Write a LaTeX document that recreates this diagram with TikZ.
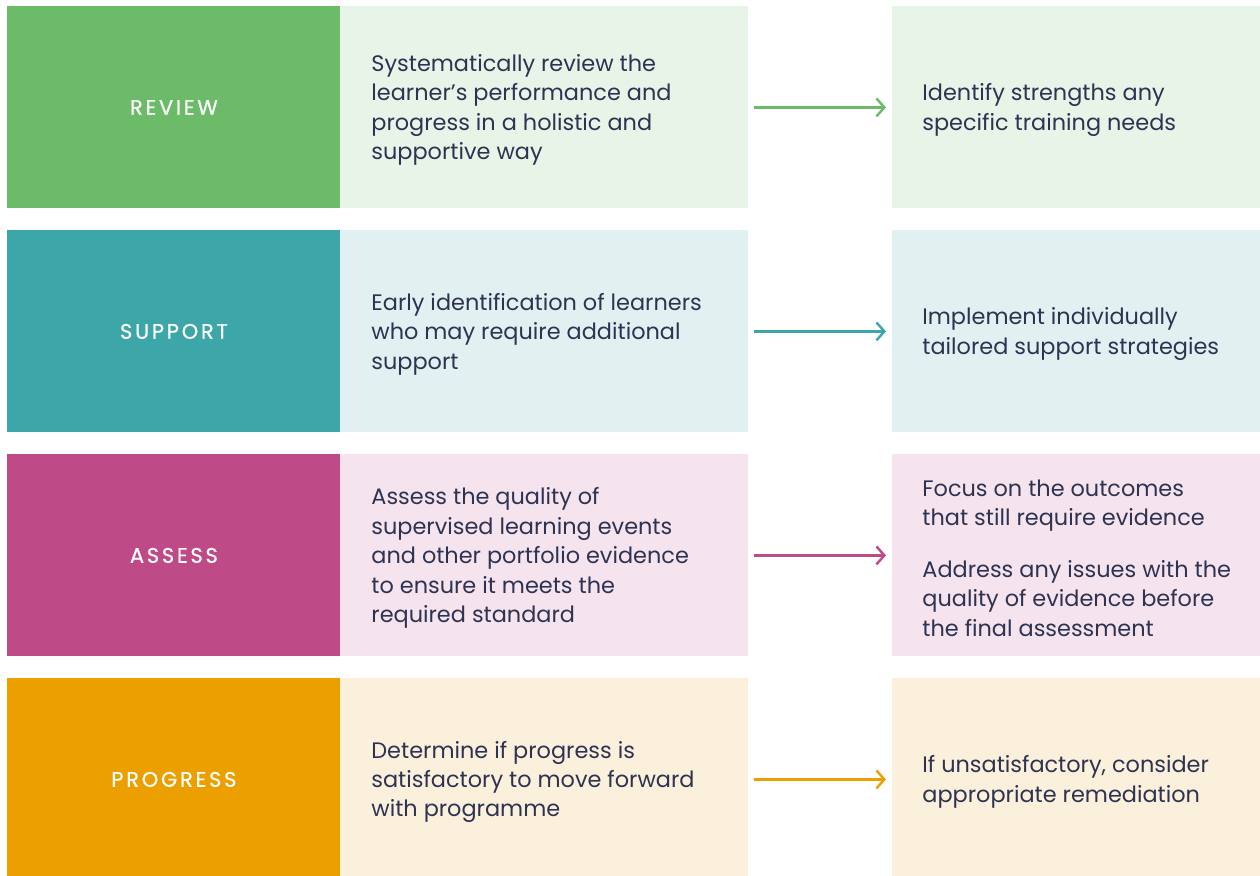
\documentclass[tikz,border=0pt]{standalone}
\usepackage{fontspec}
\setmainfont{Poppins}
\newfontfamily\tagfont[LetterSpace=13,FakeBold=0.6]{Poppins}
\usetikzlibrary{positioning,arrows.meta}

\definecolor{ink}{HTML}{2E3352}
\definecolor{reviewC}{HTML}{6CBB69}
\definecolor{reviewL}{HTML}{E8F4E8}
\definecolor{supportC}{HTML}{3DA6A9}
\definecolor{supportL}{HTML}{E1F1F1}
\definecolor{assessC}{HTML}{BE4A88}
\definecolor{assessL}{HTML}{F5E4ED}
\definecolor{progressC}{HTML}{ECA000}
\definecolor{progressL}{HTML}{FBF0DB}

\tikzset{
  box/.style={anchor=north west, inner sep=0pt, minimum height=101pt},
  tagbox/.style={box, minimum width=166.5pt, text=white, font=\tagfont\fontsize{10.5}{12}\selectfont},
  midbox/.style={box, minimum width=204pt},
  outbox/.style={box, minimum width=184pt},
  body/.style={anchor=west, align=left, inner sep=0pt, text=ink,
    font=\fontsize{11.2}{14.7}\selectfont},
  link/.style={-{Straight Barb[length=4pt,width=9pt]}, line width=1.2pt}
}

\begin{document}
\begin{tikzpicture}[x=0.5pt, y=-0.5pt]

  \useasboundingbox (0,0) rectangle (1260,875);

  % review
  \node[tagbox, fill=reviewC] (tag1) at (7,6) {REVIEW};
  \node[midbox, fill=reviewL] (mid1) at (340,6) {};
  \node[outbox, fill=reviewL] (out1) at (892,6) {};
  \node[body] (txt1) at ([xshift=15.5pt,yshift=-1.3pt]mid1.west)
    {Systematically review the\\learner’s performance and\\progress in a holistic and\\supportive way};
  \node[body] (res1) at ([xshift=15pt,yshift=-1.3pt]out1.west)
    {Identify strengths any\\specific training needs};

  % support
  \node[tagbox, fill=supportC] (tag2) at (7,230) {SUPPORT};
  \node[midbox, fill=supportL] (mid2) at (340,230) {};
  \node[outbox, fill=supportL] (out2) at (892,230) {};
  \node[body] (txt2) at ([xshift=15.5pt,yshift=-1.3pt]mid2.west)
    {Early identification of learners\\who may require additional\\support};
  \node[body] (res2) at ([xshift=15pt,yshift=-1.3pt]out2.west)
    {Implement individually\\tailored support strategies};

  % assess
  \node[tagbox, fill=assessC] (tag3) at (7,454) {ASSESS};
  \node[midbox, fill=assessL] (mid3) at (340,454) {};
  \node[outbox, fill=assessL] (out3) at (892,454) {};
  \node[body] (txt3) at ([xshift=15.5pt,yshift=-1.3pt]mid3.west)
    {Assess the quality of\\supervised learning events\\and other portfolio evidence\\to ensure it meets the\\required standard};
  \node[body] (res3) at ([xshift=15pt,yshift=-1.3pt]out3.west)
    {Focus on the outcomes\\that still require evidence\\[11pt]Address any issues with the\\quality of evidence before\\the final assessment};

  % progress
  \node[tagbox, fill=progressC] (tag4) at (7,678) {PROGRESS};
  \node[midbox, fill=progressL] (mid4) at (340,678) {};
  \node[outbox, fill=progressL] (out4) at (892,678) {};
  \node[body] (txt4) at ([xshift=15.5pt,yshift=-1.3pt]mid4.west)
    {Determine if progress is\\satisfactory to move forward\\with programme};
  \node[body] (res4) at ([xshift=15pt,yshift=-1.3pt]out4.west)
    {If unsatisfactory, consider\\appropriate remediation};

  \foreach \i/\c in {1/reviewC,2/supportC,3/assessC,4/progressC}
    \draw[link, \c] ([xshift=2.5pt]mid\i.east) -- ([xshift=-3pt]out\i.west);

\end{tikzpicture}
\end{document}
